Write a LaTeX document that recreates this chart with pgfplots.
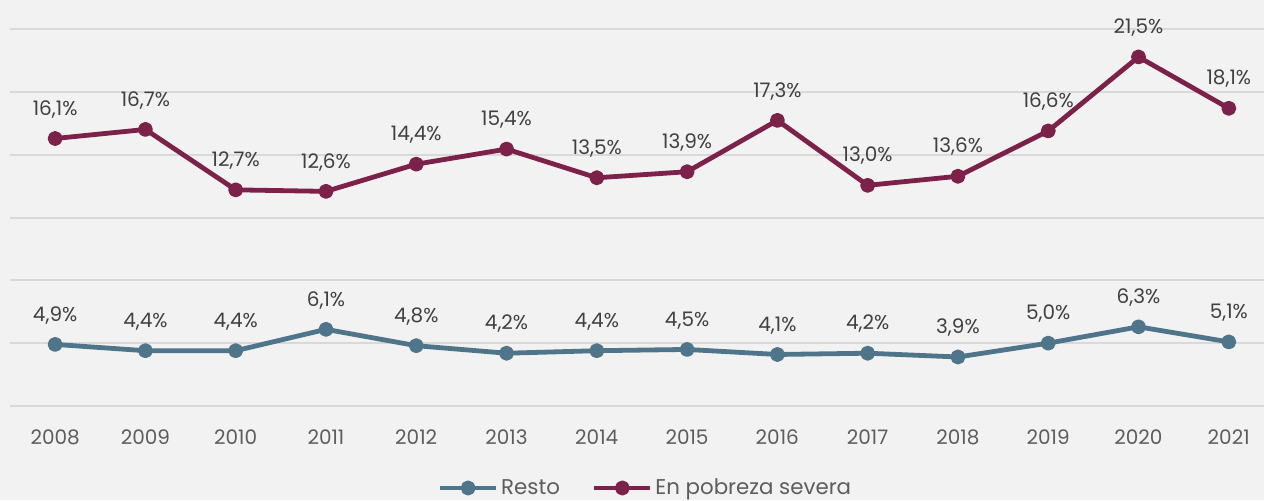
\documentclass[border=0pt]{standalone}
\usepackage{fontspec}
\setmainfont{Poppins}
\usepackage{pgfplots}
\pgfplotsset{compat=1.18}
\definecolor{bg}{HTML}{F2F2F2}
\definecolor{gridc}{HTML}{D9D9D9}
\definecolor{resto}{HTML}{4E758A}
\definecolor{severa}{HTML}{7C2149}
\definecolor{txt}{HTML}{404040}

\pgfplotsset{
  base/.style={
    scale only axis, width=940.5pt, height=282.75pt,
    at={(7.5pt,70.5pt)}, anchor=south west,
    xmin=2007.5, xmax=2021.39,
    axis line style={draw=none}, major tick style={draw=none},
    clip=false,
    /pgf/number format/assume math mode=true,
    nodes near coords, point meta=explicit symbolic,
    every node near coord/.style={font=\fontsize{15}{18}\selectfont, text=txt, anchor=base, yshift=17.5pt},
  },
  serie/.style={line width=3.6pt, line join=round, mark=*, mark size=3.8pt, mark options={solid}},
}

\begin{document}
\begin{tikzpicture}
\fill[bg] (0pt,0pt) rectangle (948pt,375pt);

\begin{axis}[base,
  ymin=0, ymax=30, ytick={0,5,...,30}, yticklabels={},
  ymajorgrids, grid style={gridc, line width=1.5pt},
  xtick={2008,...,2021},
  xticklabel style={font=\fontsize{15}{18}\selectfont, text=txt!85, anchor=base, yshift=-28.5pt,
    /pgf/number format/1000 sep={}},
]
\addplot[resto, serie] coordinates {
  (2008,4.9) [4,9\%] (2009,4.4) [4,4\%] (2010,4.4) [4,4\%] (2011,6.1) [6,1\%]
  (2012,4.8) [4,8\%] (2013,4.2) [4,2\%] (2014,4.4) [4,4\%] (2015,4.5) [4,5\%]
  (2016,4.1) [4,1\%] (2017,4.2) [4,2\%] (2018,3.9) [3,9\%] (2019,5.0) [5,0\%]
  (2020,6.3) [6,3\%] (2021,5.1) [5,1\%]
};
\end{axis}

\begin{axis}[base,
  ymin=-1.61, ymax=23.35, ytick=\empty, xtick=\empty,
  legend columns=2,
  legend style={at={(0.507,-0.2175)}, anchor=center, draw=none, fill=none,
    font=\fontsize{16}{18}\selectfont, text=txt!85,
    /tikz/every even column/.style={column sep=22pt}},
  legend image code/.code={\draw[#1, mark repeat=2, mark phase=2]
    plot coordinates {(0pt,0pt) (21pt,0pt) (42pt,0pt)};},
]
\addlegendimage{resto, serie}
\addlegendentry{Resto}
\addplot[severa, serie] coordinates {
  (2008,16.1) [16,1\%] (2009,16.7) [16,7\%] (2010,12.7) [12,7\%] (2011,12.6) [12,6\%]
  (2012,14.4) [14,4\%] (2013,15.4) [15,4\%] (2014,13.5) [13,5\%] (2015,13.9) [13,9\%]
  (2016,17.3) [17,3\%] (2017,13.0) [13,0\%] (2018,13.6) [13,6\%] (2019,16.6) [16,6\%]
  (2020,21.5) [21,5\%] (2021,18.1) [18,1\%]
};
\addlegendentry{En pobreza severa}
\end{axis}

\pgfresetboundingbox
\useasboundingbox (0pt,0pt) rectangle (948pt,375pt);
\end{tikzpicture}
\end{document}
